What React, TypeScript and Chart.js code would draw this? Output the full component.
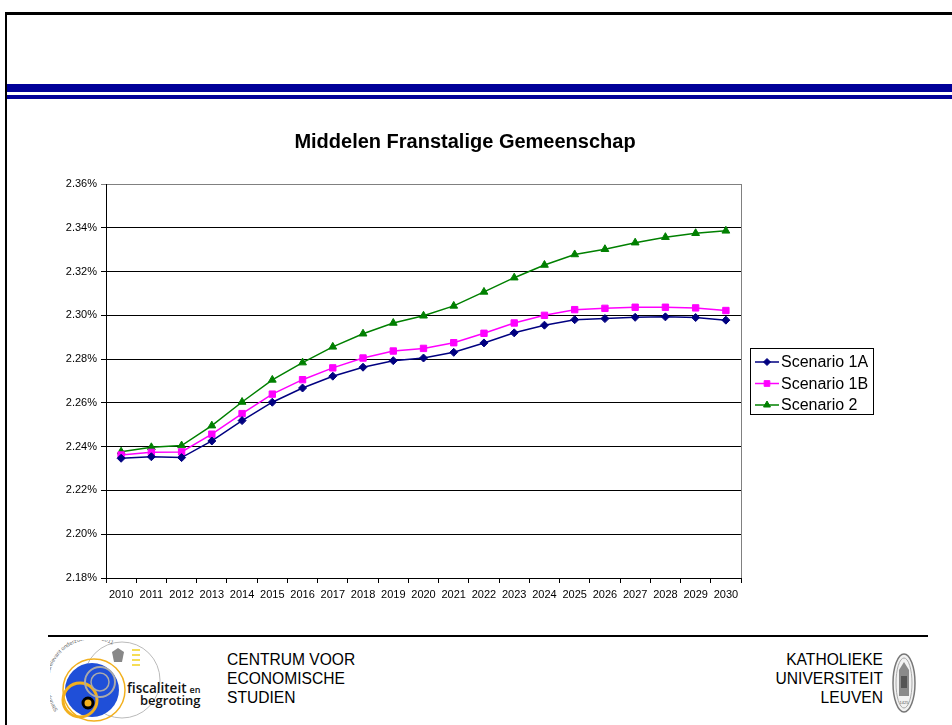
import React, { useEffect, useRef } from "react";
import { Chart, registerables } from "chart.js";
import { drawPoint } from "chart.js/helpers";

Chart.register(...registerables);

const TITLE = "Middelen Franstalige Gemeenschap";
const YEARS = [
  "2010", "2011", "2012", "2013", "2014", "2015", "2016", "2017", "2018", "2019", "2020",
  "2021", "2022", "2023", "2024", "2025", "2026", "2027", "2028", "2029", "2030",
];
const SCENARIO_1A = [
  2.2347, 2.2354, 2.235, 2.2426, 2.2519, 2.2603, 2.2668, 2.2722, 2.2763, 2.2793, 2.2805,
  2.2831, 2.2874, 2.292, 2.2955, 2.298, 2.2985, 2.2991, 2.2993, 2.299, 2.2978,
];
const SCENARIO_1B = [
  2.2362, 2.2374, 2.2376, 2.2457, 2.2551, 2.264, 2.2706, 2.276, 2.2805, 2.2837, 2.2849,
  2.2875, 2.2918, 2.2965, 2.3, 2.3026, 2.3032, 2.3037, 2.3037, 2.3034, 2.3022,
];
const SCENARIO_2 = [
  2.2377, 2.2397, 2.2405, 2.2496, 2.2604, 2.2705, 2.2784, 2.2856, 2.2916, 2.2965, 2.2998,
  2.3043, 2.3107, 2.3172, 2.323, 2.3278, 2.3302, 2.3332, 2.3357, 2.3375, 2.3386,
];
const SERIES_LABELS = ["Scenario 1A", "Scenario 1B", "Scenario 2"];
const Y_MIN = 2.18;
const Y_MAX = 2.36;
const Y_STEP = 0.02;

const FONT = "'Liberation Sans', Arial, Helvetica, sans-serif";

const excelPlugin = {
  id: "excelDecor",
  afterDraw(chart: any) {
    const { ctx, chartArea } = chart;
    ctx.save();
    // plot area right border (gray)
    ctx.strokeStyle = "#808080";
    ctx.lineWidth = 1;
    ctx.beginPath();
    const rx = Math.round(chartArea.right) + 0.5;
    ctx.moveTo(rx, chartArea.top);
    ctx.lineTo(rx, chartArea.bottom);
    ctx.stroke();

    // title
    ctx.fillStyle = "#000";
    ctx.font = `bold 20px ${FONT}`;
    ctx.textAlign = "center";
    ctx.textBaseline = "middle";
    ctx.fillText(TITLE, 465, 32);

    // legend
    const boxX = Math.round(chartArea.right) + 9;
    const boxW = 123;
    const boxH = 66;
    const midY = (chartArea.top + chartArea.bottom) / 2;
    const boxY = Math.round(midY - boxH / 2);
    ctx.strokeStyle = "#000";
    ctx.lineWidth = 1;
    ctx.strokeRect(boxX + 0.5, boxY + 0.5, boxW, boxH);
    ctx.textAlign = "left";
    ctx.font = `16px ${FONT}`;
    chart.data.datasets.forEach((ds: any, i: number) => {
      const y = boxY + 14 + i * 21.5;
      ctx.strokeStyle = ds.borderColor;
      ctx.lineWidth = ds.borderWidth;
      ctx.beginPath();
      ctx.moveTo(boxX + 5, y);
      ctx.lineTo(boxX + 29, y);
      ctx.stroke();
      ctx.fillStyle = ds.pointBackgroundColor;
      ctx.strokeStyle = ds.pointBorderColor;
      ctx.lineWidth = 1;
      drawPoint(ctx, { pointStyle: ds.pointStyle, radius: ds.pointRadius - 0.5, borderWidth: 1 } as any, boxX + 17, y);
      ctx.fillStyle = "#000";
      ctx.fillText(ds.label, boxX + 31, y + 1);
    });
    ctx.restore();
  },
};

function ChartView() {
  const ref = useRef<HTMLCanvasElement | null>(null);
  useEffect(() => {
    if (!ref.current) return;
    Chart.defaults.font.family = FONT;
    const chart = new Chart(ref.current, {
      type: "line",
      data: {
        labels: YEARS,
        datasets: [
          {
            label: SERIES_LABELS[0],
            data: SCENARIO_1A,
            borderColor: "#000080",
            backgroundColor: "#000080",
            pointBackgroundColor: "#000080",
            pointBorderColor: "#000080",
            borderWidth: 1.5,
            pointStyle: "rectRot",
            pointRadius: 4,
            pointBorderWidth: 1,
            tension: 0,
          },
          {
            label: SERIES_LABELS[1],
            data: SCENARIO_1B,
            borderColor: "#FF00FF",
            backgroundColor: "#FF00FF",
            pointBackgroundColor: "#FF00FF",
            pointBorderColor: "#FF00FF",
            borderWidth: 1.5,
            pointStyle: "rect",
            pointRadius: 4.5,
            pointBorderWidth: 1,
            tension: 0,
          },
          {
            label: SERIES_LABELS[2],
            data: SCENARIO_2,
            borderColor: "#008000",
            backgroundColor: "#008000",
            pointBackgroundColor: "#008000",
            pointBorderColor: "#008000",
            borderWidth: 1.5,
            pointStyle: "triangle",
            pointRadius: 4.5,
            pointBorderWidth: 1,
            tension: 0,
          },
        ],
      },
      options: {
        responsive: false,
        animation: false,
        devicePixelRatio: 1,
        layout: { padding: { left: 0, right: 211, top: 74, bottom: 8 } },
        plugins: {
          legend: { display: false },
          title: { display: false },
          tooltip: { enabled: false },
        },
        scales: {
          x: {
            type: "category",
            offset: true,
            afterFit: (scale: any) => {
              scale.height = 24;
            },
            grid: {
              offset: true,
              drawOnChartArea: false,
              drawTicks: true,
              tickLength: 5,
              color: "#000",
            },
            border: { color: "#000", width: 1 },
            ticks: {
              autoSkip: false,
              maxRotation: 0,
              minRotation: 0,
              padding: 5,
              color: "#000",
              font: { size: 11, family: FONT },
            },
          },
          y: {
            min: Y_MIN,
            max: Y_MAX,
            afterFit: (scale: any) => {
              scale.width = 106;
            },
            grid: {
              color: (c: any) =>
                c.tick && Math.abs(c.tick.value - Y_MAX) < 1e-6 ? "#808080" : "#000",
              drawTicks: true,
              tickLength: 5,
              lineWidth: 1,
            },
            border: { color: "#000", width: 1 },
            ticks: {
              stepSize: Y_STEP,
              padding: 4,
              color: "#000",
              font: { size: 11, family: FONT },
              callback: (v: any) => Number(v).toFixed(2) + "%",
            },
          },
        },
      },
      plugins: [excelPlugin],
    } as any);
    return () => chart.destroy();
  }, []);
  return (
    <canvas
      ref={ref}
      width={952}
      height={500}
      style={{ position: "absolute", left: 0, top: 110, width: 952, height: 500 }}
    />
  );
}

function LeftLogo() {
  return (
    <svg
      width={170}
      height={85}
      style={{ position: "absolute", left: 50, top: 640 }}
      viewBox="0 0 170 85"
    >
      <circle cx={72} cy={40} r={38} fill="none" stroke="#bbb" strokeWidth={1} />
      <circle cx={42} cy={50} r={27} fill="#1f4fd8" />
      <circle cx={44} cy={50} r={31} fill="none" stroke="#f2b01e" strokeWidth={1.5} />
      <circle cx={30} cy={60} r={17} fill="none" stroke="#f2b01e" strokeWidth={3} />
      <circle cx={50} cy={42} r={15} fill="none" stroke="#aaa" strokeWidth={2} />
      <circle cx={50} cy={42} r={9} fill="none" stroke="#aaa" strokeWidth={1.5} />
      <circle cx={38} cy={63} r={5} fill="#f2b01e" stroke="#000" strokeWidth={3} />
      <path d="M 62 12 l 6 -4 l 6 4 l -2 10 l -8 0 z" fill="#888" />
      <line x1={82} y1={10} x2={90} y2={10} stroke="#f2d21e" strokeWidth={1.5} />
      <line x1={82} y1={15} x2={90} y2={15} stroke="#f2d21e" strokeWidth={1.5} />
      <line x1={82} y1={20} x2={90} y2={20} stroke="#f2d21e" strokeWidth={1.5} />
      <line x1={82} y1={25} x2={90} y2={25} stroke="#f2d21e" strokeWidth={1.5} />
      <path id="arcPath" d="M 8 70 A 38 38 0 0 1 76 16" fill="none" />
      <text fontSize={5.5} fill="#666" fontFamily="'Liberation Sans', Arial, sans-serif">
        <textPath href="#arcPath">Steunpunt beleidsrelevant onderzoek 2007-2011</textPath>
      </text>
      <text x={77} y={53} fontSize={13.5} fill="#111" fontWeight={600} fontFamily="'Open Sans', 'Liberation Sans', sans-serif">
        fiscaliteit
        <tspan fontSize={9} dx={3}>en</tspan>
      </text>
      <text x={90} y={65} fontSize={13} fill="#111" fontWeight={600} fontFamily="'Open Sans', 'Liberation Sans', sans-serif">
        begroting
      </text>
    </svg>
  );
}

function RightLogo() {
  return (
    <svg width={30} height={70} style={{ position: "absolute", left: 890, top: 648 }} viewBox="0 0 30 70">
      <ellipse cx={14} cy={35} rx={11} ry={29} fill="#f2f2f2" stroke="#777" strokeWidth={1.5} />
      <ellipse cx={14} cy={35} rx={8} ry={25} fill="none" stroke="#aaa" strokeWidth={1} />
      <path d="M 14 14 L 19 22 L 19 48 L 9 48 L 9 22 Z" fill="#8a8a8a" />
      <rect x={11} y={28} width={6} height={12} fill="#555" />
      <text x={14} y={56} fontSize={4} textAnchor="middle" fill="#555" fontFamily="'Liberation Sans', Arial, sans-serif">
        1425
      </text>
    </svg>
  );
}

const footerText: React.CSSProperties = {
  position: "absolute",
  fontFamily: FONT,
  fontSize: 15.6,
  lineHeight: "19px",
  color: "#000",
  whiteSpace: "nowrap",
};

export default function App() {
  return (
    <div
      style={{
        position: "absolute",
        left: 0,
        top: 0,
        width: 952,
        height: 725,
        background: "#fff",
        overflow: "hidden",
      }}
    >
      <div
        style={{
          position: "absolute",
          left: 5,
          top: 12,
          width: 960,
          height: 730,
          borderTop: "3px solid #000",
          borderLeft: "2px solid #000",
          boxSizing: "border-box",
        }}
      />
      <div style={{ position: "absolute", left: 7, top: 84, width: 945, height: 8, background: "#000099" }} />
      <div style={{ position: "absolute", left: 7, top: 95, width: 945, height: 4, background: "#000099" }} />
      <ChartView />
      <div style={{ position: "absolute", left: 48, top: 635, width: 880, height: 2, background: "#000" }} />
      <LeftLogo />
      <div style={{ ...footerText, left: 227, top: 650 }}>
        CENTRUM VOOR
        <br />
        ECONOMISCHE
        <br />
        STUDIEN
      </div>
      <div style={{ ...footerText, right: 952 - 883, top: 650, textAlign: "right" }}>
        KATHOLIEKE
        <br />
        UNIVERSITEIT
        <br />
        LEUVEN
      </div>
      <RightLogo />
    </div>
  );
}
